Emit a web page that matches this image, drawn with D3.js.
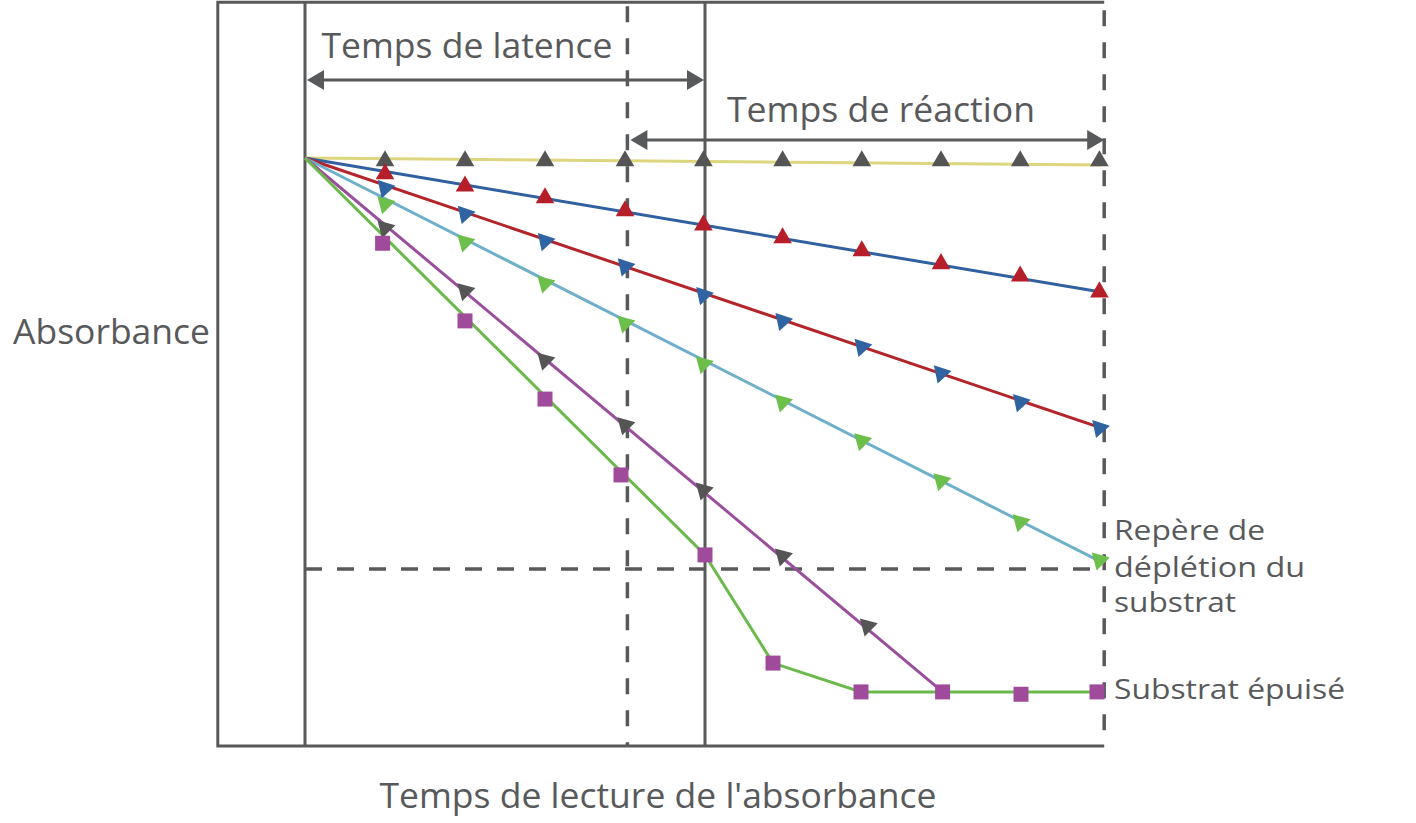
<!DOCTYPE html>
<html><head><meta charset="utf-8">
<script src="https://cdn.jsdelivr.net/npm/d3@7"></script>
<style>body{margin:0;background:#fff}svg{display:block}text{font-family:"Open Sans",sans-serif;fill:#58595b}</style>
</head><body><svg id="c" width="1416" height="823"></svg>
<script>
// ---- data (time units, absorbance units) ----
const xTicks = [1,2,3,4,5,6,7,8,9,10];
const mkX = [1,2,3,4,4.98,5.97,6.96,7.95,8.94,9.93];
const lineYellow = [[0,1.0],[9.95,0.988]];
const lineBlue   = [[0,1.0],[9.95,0.772]];
const lineRed    = [[0,1.0],[9.95,0.541]];
const lineLight  = [[0,1.0],[9.95,0.313]];
const linePurple = [[0,1.0],[7.97,0.092]];
const lineGreen  = [[0,1.0],[5,0.325],[5.85,0.141],[6.95,0.092],[9.95,0.092]];

const mkGrayTop   = [0.995,0.995,0.995,0.995,0.995,0.995,0.995,0.995,0.995,0.995];
const mkRed       = [0.973,0.952,0.932,0.910,0.886,0.864,0.842,0.820,0.799,0.772];
const mkBlue      = [0.949,0.905,0.859,0.816,0.767,0.723,0.679,0.634,0.585,0.541];
const mkGreen     = [0.922,0.857,0.787,0.719,0.650,0.585,0.519,0.451,0.381,0.316];
const mkGrayPurp  = [0.881,0.774,0.656,0.546,0.435,0.323,0.204];
const mkSquareX   = [0.97,2.0,3.0,3.95,5.0,5.85,6.95,7.97,8.95,9.9];
const mkSquare    = [0.855,0.723,0.590,0.461,0.325,0.141,0.092,0.092,0.088,0.092];

const depletion = 0.301;
const latenceEnd = 5, reactionStart = 4.03;
const frame = {x0:-1.09, x1:9.99, y0:0, y1:1.265};

// ---- scales ----
const svg = d3.select('#c');
const x = d3.scaleLinear().domain([0,10]).range([305,1105]);
const y = d3.scaleLinear().domain([0,1]).range([746,158]);
const gray = '#58595b';

const g = svg.append('g');
// frame
g.append('path').attr('d', `M${x(frame.x1)},${y(frame.y1)}H${x(frame.x0)}V${y(frame.y0)}H${x(frame.x1)}`)
  .attr('fill','none').attr('stroke',gray).attr('stroke-width',3);
g.append('line').attr('x1',x(frame.x1)).attr('x2',x(frame.x1)).attr('y1',y(frame.y1)).attr('y2',y(frame.y0))
  .attr('stroke',gray).attr('stroke-width',3.5).attr('stroke-dasharray','16,16').attr('stroke-dashoffset',-8);
// vertical reference lines
g.append('line').attr('x1',x(0)).attr('x2',x(0)).attr('y1',y(frame.y1)).attr('y2',y(0)).attr('stroke',gray).attr('stroke-width',3);
g.append('line').attr('x1',x(latenceEnd)).attr('x2',x(latenceEnd)).attr('y1',y(frame.y1)).attr('y2',y(0)).attr('stroke',gray).attr('stroke-width',3);
g.append('line').attr('x1',x(reactionStart)).attr('x2',x(reactionStart)).attr('y1',y(frame.y1)).attr('y2',y(0))
  .attr('stroke',gray).attr('stroke-width',3.5).attr('stroke-dasharray','16,16').attr('stroke-dashoffset',-4);
// depletion dashed line
g.append('line').attr('x1',x(0)).attr('x2',x(frame.x1)).attr('y1',y(depletion)).attr('y2',y(depletion))
  .attr('stroke',gray).attr('stroke-width',3.5).attr('stroke-dasharray','17,15');

// arrows
function arrow(xa, xb, yy){
  g.append('line').attr('x1',xa+14).attr('x2',xb-14).attr('y1',yy).attr('y2',yy).attr('stroke',gray).attr('stroke-width',3);
  g.append('path').attr('d',`M${xa},${yy}l17,-10v20z`).attr('fill',gray);
  g.append('path').attr('d',`M${xb},${yy}l-17,-10v20z`).attr('fill',gray);
}
arrow(x(0)+2, x(latenceEnd)-1, 80);
arrow(x(reactionStart)+3, x(frame.x1), 140);

// lines
const lg = d3.line().x(d=>x(d[0])).y(d=>y(d[1]));
const lines = [[lineYellow,'#ded57f'],[lineBlue,'#30609f'],[lineRed,'#b3242b'],[lineLight,'#6eafca'],[linePurple,'#9a4f9c'],[lineGreen,'#6bb94b']];
lines.forEach(([d,c])=>g.append('path').attr('d',lg(d)).attr('fill','none').attr('stroke',c).attr('stroke-width',3));

// markers
const tri = d3.symbol().type(d3.symbolTriangle).size(150);
function tris(vals, color, rot, xs){
  g.selectAll(null).data(vals).enter().append('path').attr('d',tri)
   .attr('transform',(d,i)=>`translate(${x(xs[i])},${y(d)}) rotate(${rot})`).attr('fill',color);
}
tris(mkGrayTop,'#555555',0,mkX);
tris(mkRed,'#b61f29',0,mkX);
tris(mkBlue,'#2f63a1',198,mkX);
tris(mkGreen,'#6cbf4a',195,mkX);
tris(mkGrayPurp,'#555555',195,[1,2,3,4,4.98,5.97,7.03]);
const sq = d3.symbol().type(d3.symbolSquare).size(225);
g.selectAll(null).data(mkSquare).enter().append('path').attr('d',sq)
  .attr('transform',(d,i)=>`translate(${x(mkSquareX[i])},${y(d)})`).attr('fill','#a04a9c');

// texts
const t = (s,xx,yy,fs,anchor,len)=>{const e=g.append('text').attr('x',xx).attr('y',yy).attr('font-size',fs).attr('text-anchor',anchor||'start').text(s); if(len) e.attr('textLength',len).attr('lengthAdjust','spacingAndGlyphs'); return e;};
t('Temps de latence',467,58,35.5,'middle',291);
t('Temps de réaction',881,122,35.5,'middle',308);
t('Absorbance',13,344,35.5,'start',197);
t("Temps de lecture de l'absorbance",658,808,35.5,'middle',557);
t('Repère de',1114,540,26.5,'start',151);
t('déplétion du',1114,577,26.5,'start',191);
t('substrat',1114,612,26.5,'start',122);
t('Substrat épuisé',1114,699,26.5,'start',231);
</script></body></html>
